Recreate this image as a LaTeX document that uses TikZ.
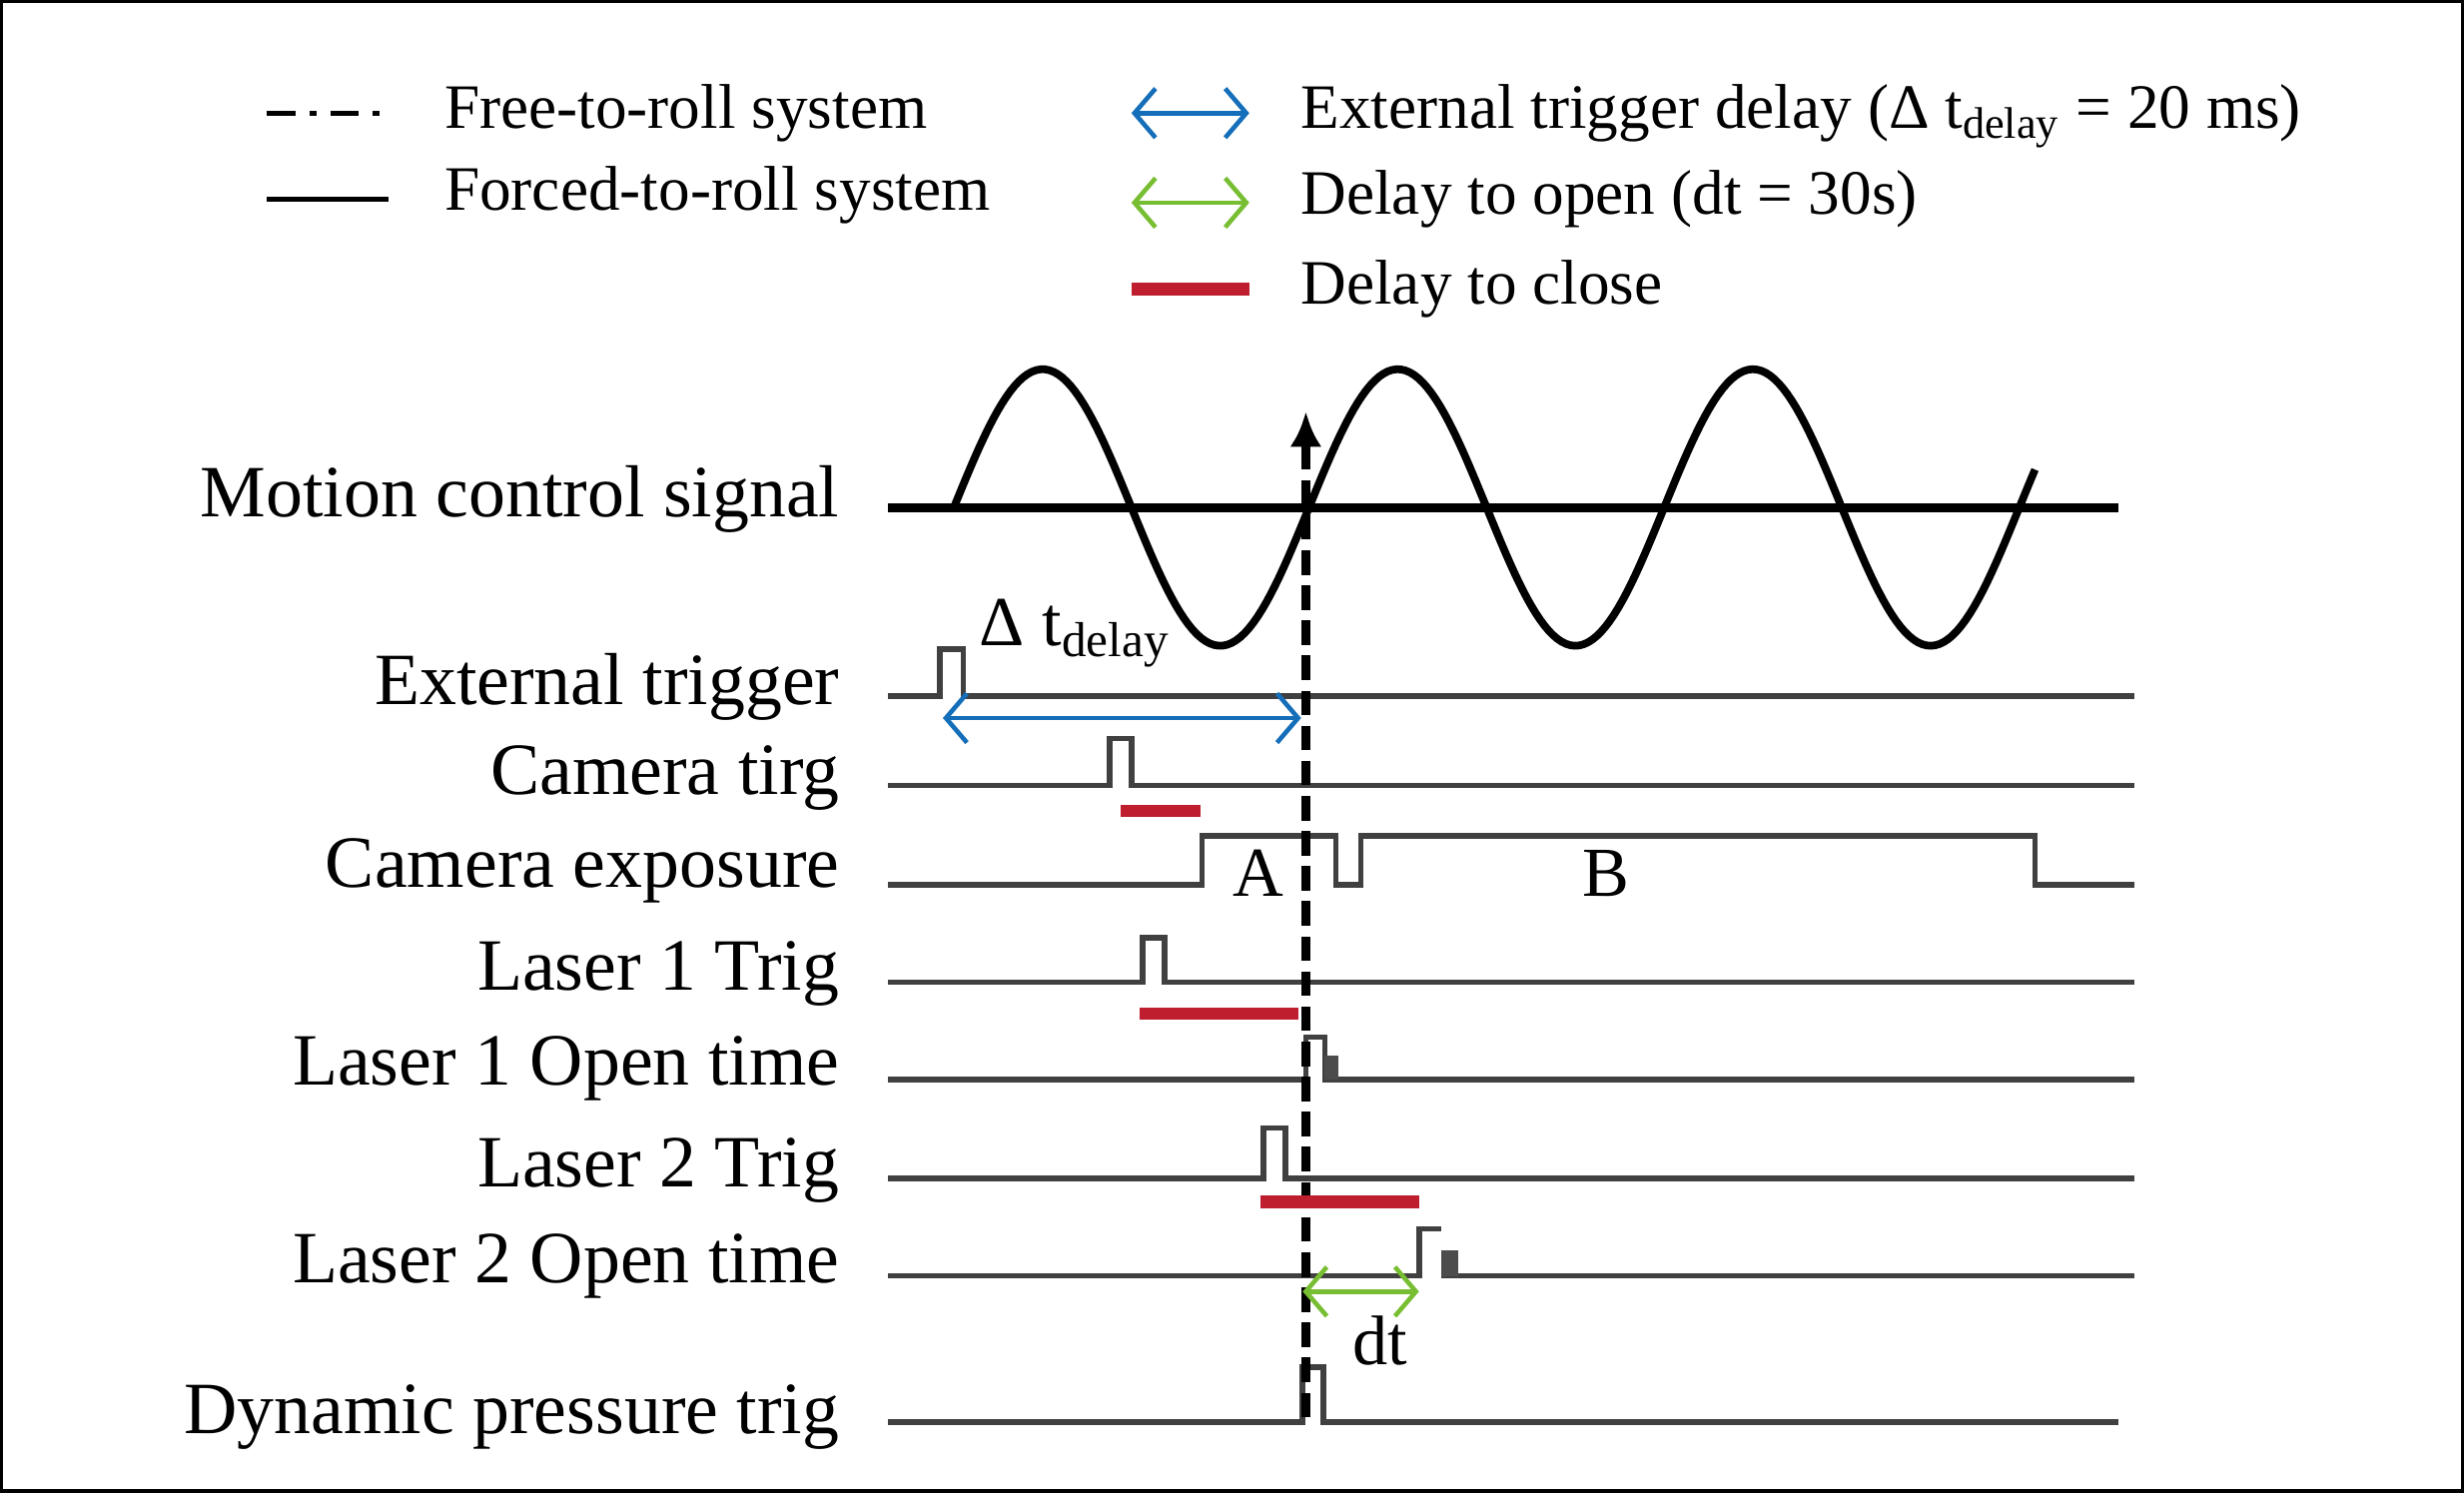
\documentclass[tikz,border=0pt]{standalone}
\usepackage{fontspec}
\setmainfont{Liberation Serif}
\usetikzlibrary{arrows.meta,positioning}
\definecolor{delayblue}{RGB}{20,110,185}
\definecolor{opengreen}{RGB}{120,190,50}
\definecolor{closered}{RGB}{190,30,45}
\tikzset{
  sig/.style={line width=1.6pt, black!75},
  lbl/.style={anchor=east, font=\fontsize{21}{24}\selectfont},
  leg/.style={anchor=west, font=\fontsize{18}{21}\selectfont},
  dly/.style={delayblue, line width=1.3pt, {Straight Barb[length=6pt,width=14pt]}-{Straight Barb[length=6pt,width=14pt]}},
  opn/.style={opengreen, line width=1.3pt, {Straight Barb[length=6pt,width=14pt]}-{Straight Barb[length=6pt,width=14pt]}},
  cls/.style={closered, line width=3.5pt},
}
\begin{document}
\begin{tikzpicture}[x=0.01573cm, y=-0.01573cm]
  \useasboundingbox (0,0) rectangle (1568,950);
  \draw[line width=1pt] (1,1) rectangle (1567,949);

  % legend
  \draw[line width=1.5pt, dash pattern=on 8pt off 4pt on 2pt off 4pt] (170,72) -- (247,72);
  \node[leg] (lfree) at (275,72) {Free-to-roll system};
  \draw[line width=1.5pt] (170,127) -- (247,127);
  \node[leg] (lforced) at (275,124) {Forced-to-roll system};
  \coordinate (ld1) at (720,72); \coordinate (ld2) at (795,72);
  \draw[dly] (ld1) -- (ld2);
  \node[leg] (ldelay) at (820,74) {External trigger delay (Δ t\textsubscript{delay} = 20 ms)};
  \coordinate (lo1) at (720,129); \coordinate (lo2) at (795,129);
  \draw[opn] (lo1) -- (lo2);
  \node[leg] (lopen) at (820,127) {Delay to open (dt = 30s)};
  \draw[cls] (720,184) -- (795,184);
  \node[leg] (lclose) at (820,184) {Delay to close};

  % row labels
  \node[lbl] (motion) at (542,318) {Motion control signal};
  \node[lbl] (ext)    at (542,437) {External trigger};
  \node[lbl] (cam)    at (542,495) {Camera tirg};
  \node[lbl] (exp)    at (542,554) {Camera exposure};
  \node[lbl] (l1t)    at (542,620) {Laser 1 Trig};
  \node[lbl] (l1o)    at (542,680) {Laser 1 Open time};
  \node[lbl] (l2t)    at (542,745) {Laser 2 Trig};
  \node[lbl] (l2o)    at (542,806) {Laser 2 Open time};
  \node[lbl] (dyn)    at (542,902) {Dynamic pressure trig};

  % motion signal
  \draw[line width=2.6pt] (565,323) -- (1348,323);
  \draw[line width=2.2pt] plot[domain=607:1295, samples=250] (\x, {323-88*sin((\x-607)*1.5929)});

  % timing traces
  \draw[sig] (565,443) -- (598,443) -- (598,413) -- (613,413) -- (613,443) -- (1358,443);
  \draw[sig] (565,500) -- (706,500) -- (706,470) -- (720,470) -- (720,500) -- (1358,500);
  \draw[sig] (565,563) -- (765,563) -- (765,532) -- (850,532) -- (850,563) -- (866,563)
    -- (866,532) -- (1295,532) -- (1295,563) -- (1358,563);
  \draw[sig] (565,625) -- (727,625) -- (727,597) -- (741,597) -- (741,625) -- (1358,625);
  \draw[sig] (565,687) -- (831,687) -- (831,660) -- (843,660) -- (843,687) -- (1358,687);
  \fill[black!70] (843,672) rectangle (852,687);
  \draw[sig] (565,750) -- (804,750) -- (804,718) -- (818,718) -- (818,750) -- (1358,750);
  \draw[sig] (565,812) -- (903,812) -- (903,782) -- (917,782);
  \draw[sig] (917,812) -- (1358,812);
  \fill[black!70] (917,796) rectangle (928,812);
  \draw[sig] (565,905) -- (829,905) -- (829,870) -- (842,870) -- (842,905) -- (1348,905);

  % trigger instant
  \coordinate (ttop) at (831,262);
  \coordinate (tbot) at (831,902);
  \draw[line width=2.4pt, dash pattern=on 7pt off 3pt, -{Latex[length=10pt,width=9pt]}] (tbot) -- (ttop);

  % delays
  \coordinate (d1) at (600,457); \coordinate (d2) at (828,457);
  \draw[dly] (d1) -- (d2);
  \node (dtd) at (684,403) {\fontsize{20}{23}\selectfont Δ t\textsubscript{delay}};
  \coordinate (o1) at (829,822); \coordinate (o2) at (903,822);
  \draw[opn] (o1) -- (o2);
  \node (dt) at (878,853) {\fontsize{20}{23}\selectfont dt};
  \draw[cls] (713,516) -- (764,516);
  \draw[cls] (725,645) -- (826,645);
  \draw[cls] (802,765) -- (903,765);

  \node (A) at (801,556) {\fontsize{20}{23}\selectfont A};
  \node (B) at (1022,556) {\fontsize{20}{23}\selectfont B};
\end{tikzpicture}
\end{document}
